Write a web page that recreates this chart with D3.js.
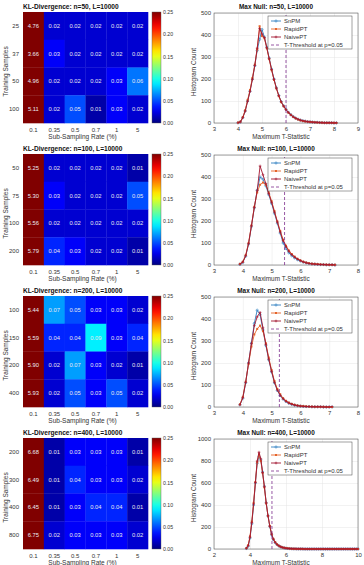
<!DOCTYPE html>
<html>
<head>
<meta charset="utf-8">
<script src="https://cdn.jsdelivr.net/npm/d3@7/dist/d3.min.js"></script>
<style>
  body { margin: 0; background: #fff; }
  svg { display: block; font-family: "Liberation Sans", Arial, sans-serif; }
</style>
</head>
<body>
<div id="chart"></div>
<script>
// ---- data ----
const RATES = ["0.1", "0.35", "0.5", "0.7", "1", "5"];
const N_LIST = [50, 100, 200, 400];

const TRAIN_50 = ["25", "37", "50", "100"];
const TRAIN_100 = ["50", "75", "100", "200"];
const TRAIN_200 = ["100", "150", "200", "400"];
const TRAIN_400 = ["200", "300", "400", "800"];

const KL_50 = [
  [4.76, 0.02, 0.02, 0.02, 0.02, 0.02],
  [3.66, 0.03, 0.02, 0.02, 0.02, 0.02],
  [4.96, 0.02, 0.02, 0.02, 0.03, 0.06],
  [5.11, 0.02, 0.05, 0.01, 0.03, 0.02]
];
const KL_100 = [
  [5.25, 0.02, 0.02, 0.02, 0.02, 0.01],
  [5.30, 0.03, 0.02, 0.02, 0.02, 0.05],
  [5.56, 0.02, 0.02, 0.02, 0.02, 0.02],
  [5.79, 0.04, 0.03, 0.02, 0.02, 0.01]
];
const KL_200 = [
  [5.44, 0.07, 0.05, 0.03, 0.03, 0.02],
  [5.59, 0.04, 0.04, 0.09, 0.03, 0.04],
  [5.90, 0.02, 0.07, 0.03, 0.02, 0.01],
  [5.93, 0.02, 0.05, 0.03, 0.05, 0.02]
];
const KL_400 = [
  [6.68, 0.01, 0.03, 0.03, 0.03, 0.01],
  [6.49, 0.01, 0.04, 0.03, 0.03, 0.02],
  [6.45, 0.01, 0.03, 0.04, 0.04, 0.01],
  [6.75, 0.02, 0.03, 0.03, 0.03, 0.02]
];

const COLOR_TICKS = [0, 0.05, 0.10, 0.15, 0.20, 0.25];

// histogram bins: first bin centre and bin width of the max-T statistic
const BIN_START = [4.0, 3.9, 3.9, 3.8];
const BIN_WIDTH = 0.1;
const T_THRESHOLD = [6.0, 5.45, 5.27, 5.22];
const HIST_XDOMAIN = [[3, 9], [3, 8], [3, 8], [2, 10]];
const HIST_XTICKS = [[3, 4, 5, 6, 7, 8, 9], [3, 4, 5, 6, 7, 8], [3, 4, 5, 6, 7, 8], [2, 4, 6, 8, 10]];
const HIST_YTICKS = [[0, 100, 200, 300, 400, 500], [0, 100, 200, 300, 400, 500],
                     [0, 100, 200, 300, 400, 500], [0, 200, 400, 600, 800, 1000]];

const SNPM_50  = [1,5,25,55,100,145,200,260,330,380, 425,390,345,295,245,200,160,125,97,78, 62,48,38,29,22,17,13,10,8,6, 5,4,3,3,2,2,1,1,1,1, 0,0];
const RAPID_50 = [2,6,27,58,105,150,205,265,335,440, 395,385,340,290,240,196,157,122,95,76, 60,47,37,28,21,16,12,9,7,6, 5,4,3,2,2,2,1,1,1,1, 1,0];
const NAIVE_50 = [1,5,24,54,98,143,198,262,340,430, 405,388,342,292,243,198,158,124,96,77, 61,48,37,28,22,17,13,10,8,6, 5,4,3,3,2,1,1,1,1,1, 0,1];

const SNPM_100  = [3,12,40,95,175,260,340,400,390,360, 320,280,235,190,145,100,75,55,42,32, 24,18,13,10,7,5,4,3,2,2, 1,1,1,0];
const RAPID_100 = [5,15,45,100,180,265,330,365,375,365, 330,290,245,198,155,115,88,66,50,38, 28,21,15,11,8,6,5,4,3,2, 2,1,1,1];
const NAIVE_100 = [4,13,42,97,178,262,338,450,410,370, 325,285,240,195,150,110,84,62,47,36, 27,20,14,10,7,5,4,3,2,2, 1,1,1,0];

const SNPM_200  = [10,40,110,200,290,380,440,420,350,280, 215,160,110,75,52,36,25,17,12,8, 6,4,3,2,2,1,1,1,1,0, 0,0,0];
const RAPID_200 = [12,45,115,195,275,330,355,370,345,290, 225,168,118,82,58,40,28,20,14,10, 7,5,4,3,2,2,1,1,1,1, 0,0,0];
const NAIVE_200 = [10,42,112,200,288,370,410,430,360,285, 218,162,112,77,53,37,26,18,13,9, 6,4,3,2,2,1,1,1,1,0, 0,0,1];

const SNPM_400  = [5,25,100,230,400,600,780,840,810,700, 570,420,300,205,130,85,58,40,28,20, 14,10,7,5,4,3,2,2,1,1, 1,1,
  0,0,0,0,0,0,0,0,0,0, 0,0,0,0,0,0,0,0,0,0, 0,0,0,0,0,0,0,0,0,0, 0];
const RAPID_400 = [8,35,115,250,420,610,790,860,800,690, 560,415,300,210,140,92,62,43,30,21, 15,11,8,6,4,3,2,2,1,1, 1,1,
  0,0,0,0,0,0,0,0,0,0, 0,0,0,0,0,0,0,0,0,0, 0,0,0,0,0,0,0,0,0,0, 0];
const NAIVE_400 = [6,30,108,240,410,605,800,880,820,695, 565,418,302,208,135,88,60,41,29,20, 14,10,7,5,4,3,2,2,1,1, 1,1,
  0,0,0,0,0,0,0,0,0,0, 0,0,0,0,0,0,0,0,0,0, 0,0,0,0,0,0,0,0,0,0, 0];

const SERIES_NAMES = ["SnPM", "RapidPT", "NaivePT"];

// panel table built from the arrays above
const PANELS = [
  { train: TRAIN_50, kl: KL_50, hist: [SNPM_50, RAPID_50, NAIVE_50] },
  { train: TRAIN_100, kl: KL_100, hist: [SNPM_100, RAPID_100, NAIVE_100] },
  { train: TRAIN_200, kl: KL_200, hist: [SNPM_200, RAPID_200, NAIVE_200] },
  { train: TRAIN_400, kl: KL_400, hist: [SNPM_400, RAPID_400, NAIVE_400] }
];

// ---- layout ----
const W = 364, H = 565;
const ROW_TOP = [12, 154, 296, 438];
const ROW_H = 111;
const HM_X0 = 23, HM_X1 = 148;
const CB_X0 = 152, CB_X1 = 161;
const HI_X0 = 214, HI_X1 = 358;
const TEXT = "#333";
const SERIES_COLORS = ["#2f7fc1", "#e5642a", "#a2142f"];
const THRESH_COLOR = "#7e2f8e";

// MATLAB style jet colormap
function jet(t) {
  t = Math.max(0, Math.min(1, t));
  const c = v => Math.round(255 * Math.max(0, Math.min(1, v)));
  return `rgb(${c(1.5 - Math.abs(4 * t - 3))},${c(1.5 - Math.abs(4 * t - 2))},${c(1.5 - Math.abs(4 * t - 1))})`;
}
const colorT = d3.scaleLinear().domain([0, 0.25]).range([0, 1]).clamp(true);

const svg = d3.select("#chart").append("svg").attr("width", W).attr("height", H);

// shared gradient for the colour bars
const grad = svg.append("defs").append("linearGradient")
  .attr("id", "jetgrad").attr("x1", 0).attr("y1", 1).attr("x2", 0).attr("y2", 0);
d3.range(0, 1.0001, 0.05).forEach(t => {
  grad.append("stop").attr("offset", t).attr("stop-color", jet(t));
});

function styleTicks(g, size) {
  g.select(".domain").remove();
  g.selectAll("text").attr("fill", TEXT).style("font-size", size + "px");
}

// ---- heatmap ----
function drawHeatmap(p, i) {
  const top = ROW_TOP[i], bottom = top + ROW_H;
  const x = d3.scaleBand().domain(RATES).range([HM_X0, HM_X1]);
  const y = d3.scaleBand().domain(p.train).range([top, bottom]);
  const g = svg.append("g");

  g.append("text").attr("x", HM_X0).attr("y", top - 3)
    .text(`KL-Divergence: n=${N_LIST[i]}, L=10000`)
    .style("font-size", "6.6px").style("font-weight", "bold").attr("fill", "#111");

  p.kl.forEach((row, r) => {
    row.forEach((v, c) => {
      g.append("rect")
        .attr("x", x(RATES[c])).attr("y", y(p.train[r]))
        .attr("width", x.bandwidth() + 0.3).attr("height", y.bandwidth() + 0.3)
        .attr("fill", jet(colorT(v)));
      g.append("text")
        .attr("x", x(RATES[c]) + x.bandwidth() / 2)
        .attr("y", y(p.train[r]) + y.bandwidth() / 2 + 2)
        .attr("text-anchor", "middle")
        .attr("fill", "#e8e8f0")
        .style("font-size", "5.8px")
        .text(v.toFixed(2));
    });
  });

  g.append("g").attr("transform", `translate(0,${bottom})`)
    .call(d3.axisBottom(x).tickSize(0).tickPadding(5))
    .call(a => styleTicks(a, 6));
  g.append("g").attr("transform", `translate(${HM_X0},0)`)
    .call(d3.axisLeft(y).tickSize(0).tickPadding(4))
    .call(a => styleTicks(a, 6));

  g.append("text").attr("x", (HM_X0 + HM_X1) / 2 - 3).attr("y", bottom + 16)
    .attr("text-anchor", "middle").attr("fill", TEXT).style("font-size", "6.5px")
    .text("Sub-Sampling Rate (%)");
  g.append("text")
    .attr("transform", `translate(8,${top + ROW_H / 2 + 4}) rotate(-90)`)
    .attr("text-anchor", "middle").attr("fill", TEXT).style("font-size", "6.5px")
    .text("Training Samples");

  // colour bar
  const cb = d3.scaleLinear().domain([0, 0.25]).range([bottom, top]);
  g.append("rect").attr("x", CB_X0).attr("y", top).attr("width", CB_X1 - CB_X0).attr("height", ROW_H)
    .attr("fill", "url(#jetgrad)").attr("stroke", "#555").attr("stroke-width", 0.4);
  g.append("g").attr("transform", `translate(${CB_X1},0)`)
    .call(d3.axisRight(cb).tickValues(COLOR_TICKS).tickFormat(d3.format(".2f")).tickSize(0).tickPadding(2))
    .call(a => styleTicks(a, 5.2));
}

// ---- histogram ----
function drawHist(p, i) {
  const top = ROW_TOP[i] + 1, bottom = ROW_TOP[i] + ROW_H;
  const yTicks = HIST_YTICKS[i];
  const x = d3.scaleLinear().domain(HIST_XDOMAIN[i]).range([HI_X0, HI_X1]);
  const y = d3.scaleLinear().domain([0, yTicks[yTicks.length - 1]]).range([bottom, top]);
  const g = svg.append("g");

  g.append("text").attr("x", 276).attr("y", top - 4).attr("text-anchor", "middle")
    .text(`Max Null: n=${N_LIST[i]}, L=10000`)
    .style("font-size", "6.4px").style("font-weight", "bold").attr("fill", "#111");

  // grid
  g.append("g").attr("transform", `translate(0,${bottom})`)
    .call(d3.axisBottom(x).tickValues(HIST_XTICKS[i]).tickFormat(d3.format("d"))
      .tickSize(-(bottom - top)).tickPadding(4))
    .call(a => { styleTicks(a, 6); a.selectAll("line").attr("stroke", "#e4e4e4").attr("stroke-width", 0.5); });
  g.append("g").attr("transform", `translate(${HI_X0},0)`)
    .call(d3.axisLeft(y).tickValues(yTicks).tickFormat(d3.format("d"))
      .tickSize(-(HI_X1 - HI_X0)).tickPadding(3))
    .call(a => { styleTicks(a, 6); a.selectAll("line").attr("stroke", "#e4e4e4").attr("stroke-width", 0.5); });

  g.append("rect").attr("x", HI_X0).attr("y", top).attr("width", HI_X1 - HI_X0).attr("height", bottom - top)
    .attr("fill", "none").attr("stroke", "#444").attr("stroke-width", 0.5);

  const line = d3.line().x(d => x(d[0])).y(d => y(d[1]));

  p.hist.forEach((counts, s) => {
    const pts = counts.map((c, k) => [BIN_START[i] + k * BIN_WIDTH, c]);
    const col = SERIES_COLORS[s];
    g.append("path").datum(pts).attr("d", line)
      .attr("fill", "none").attr("stroke", col).attr("stroke-width", 0.9);
    drawMarkers(g, pts.map(d => [x(d[0]), y(d[1])]), s, col);
  });

  // threshold
  g.append("line")
    .attr("x1", x(T_THRESHOLD[i])).attr("x2", x(T_THRESHOLD[i]))
    .attr("y1", y(0)).attr("y2", top)
    .attr("stroke", THRESH_COLOR).attr("stroke-width", 0.8).attr("stroke-dasharray", "3,2");

  g.append("text").attr("x", 281).attr("y", bottom + 16).attr("text-anchor", "middle")
    .attr("fill", TEXT).style("font-size", "6.4px").text("Maximum T-Statistic");
  g.append("text")
    .attr("transform", `translate(196,${top + (bottom - top) / 2 + 4}) rotate(-90)`)
    .attr("text-anchor", "middle").attr("fill", TEXT).style("font-size", "6.4px")
    .text("Histogram Count");

  // legend
  const lx = 268, ly = top + 3;
  const lg = g.append("g");
  lg.append("rect").attr("x", lx).attr("y", ly).attr("width", 84).attr("height", 33)
    .attr("fill", "#fff").attr("stroke", "#444").attr("stroke-width", 0.5);
  SERIES_NAMES.forEach((name, s) => {
    const yy = ly + 5 + s * 8;
    lg.append("line").attr("x1", lx + 3).attr("x2", lx + 13).attr("y1", yy).attr("y2", yy)
      .attr("stroke", SERIES_COLORS[s]).attr("stroke-width", 0.9);
    drawMarkers(lg, [[lx + 8, yy]], s, SERIES_COLORS[s]);
    lg.append("text").attr("x", lx + 16).attr("y", yy + 2).attr("fill", TEXT)
      .style("font-size", "6px").text(name);
  });
  const yy = ly + 29;
  lg.append("line").attr("x1", lx + 3).attr("x2", lx + 13).attr("y1", yy).attr("y2", yy)
    .attr("stroke", THRESH_COLOR).attr("stroke-width", 0.8).attr("stroke-dasharray", "3,2");
  lg.append("text").attr("x", lx + 16).attr("y", yy + 2).attr("fill", TEXT)
    .style("font-size", "6px").text("T-Threshold at p=0.05");
}

// circle / square / plus markers per series
function drawMarkers(g, pts, s, col) {
  if (s === 0) {
    g.append("g").selectAll("circle").data(pts).join("circle")
      .attr("cx", d => d[0]).attr("cy", d => d[1]).attr("r", 1.1)
      .attr("fill", "none").attr("stroke", col).attr("stroke-width", 0.6);
  } else if (s === 1) {
    g.append("g").selectAll("rect").data(pts).join("rect")
      .attr("x", d => d[0] - 1).attr("y", d => d[1] - 1).attr("width", 2).attr("height", 2)
      .attr("fill", col);
  } else {
    g.append("g").selectAll("path").data(pts).join("path")
      .attr("d", d => `M${d[0] - 1.4},${d[1]}h2.8M${d[0]},${d[1] - 1.4}v2.8`)
      .attr("stroke", col).attr("stroke-width", 0.6);
  }
}

PANELS.forEach((p, i) => {
  drawHeatmap(p, i);
  drawHist(p, i);
});
</script>
</body>
</html>
